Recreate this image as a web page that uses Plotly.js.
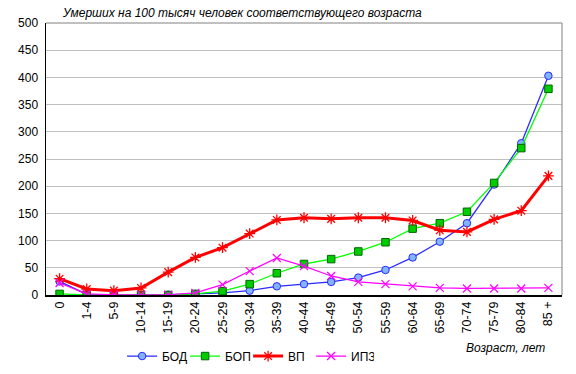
<!DOCTYPE html>
<html><head><meta charset="utf-8">
<script src="https://cdn.plot.ly/plotly-3.0.1.min.js"></script>
<style>html,body{margin:0;padding:0;background:#fff}#c{width:576px;height:374px}</style>
</head><body><div id="c"></div>
<script>
const categories = ["0","1-4","5-9","10-14","15-19","20-24","25-29","30-34","35-39","40-44","45-49","50-54","55-59","60-64","65-69","70-74","75-79","80-84","85 +"];
const bod = [25, 1, 0, 0, 0.5, 2, 4, 8, 16, 20, 24, 32, 46, 69, 98, 132, 203, 279, 403];
const bop = [2, 0, 0, 0, 0, 2, 7, 20, 40, 57, 66, 80, 97, 122, 132, 153, 206, 270, 379];
const vp = [30, 11, 8, 13, 42, 69, 87, 113, 138, 142, 140, 142, 142, 137, 119, 116, 139, 155, 219];
const ipz = [22, 2, 0.5, 0.5, 0.5, 4, 19, 44, 68, 53, 35, 24, 20, 16, 13, 12, 12, 12, 13];
const yTicks = [0,50,100,150,200,250,300,350,400,450,500];

const traces = [
  {name:"БОД", x:categories, y:bod, type:"scatter", mode:"lines+markers",
   line:{color:"#2a2aff", width:1.3},
   marker:{symbol:"circle", size:7.5, color:"#80b4ff", line:{color:"#2a2aff", width:1}}},
  {name:"БОП", x:categories, y:bop, type:"scatter", mode:"lines+markers",
   line:{color:"#00ff00", width:1.3},
   marker:{symbol:"square", size:7.5, color:"#00cc00", line:{color:"#006600", width:1}}},
  {name:"ВП", x:categories, y:vp, type:"scatter", mode:"lines+markers",
   line:{color:"#ff0000", width:3},
   marker:{symbol:"asterisk", size:9, color:"#ff0000", line:{color:"#ff0000", width:1.3}}},
  {name:"ИПЗ", x:categories, y:ipz, type:"scatter", mode:"lines+markers",
   line:{color:"#ff00ff", width:1.2},
   marker:{symbol:"x-thin", size:8, color:"#ff00ff", line:{color:"#ff00ff", width:1.2}}}
];

const layout = {
  width:576, height:374,
  margin:{l:46, r:14, t:23, b:79},
  paper_bgcolor:"#fff", plot_bgcolor:"#fff",
  font:{family:"Liberation Sans, Arial, sans-serif", size:12, color:"#000"},
  showlegend:true,
  legend:{orientation:"h", xref:"container", yref:"container", x:0.212, xanchor:"left",
          y:0.048, yanchor:"middle",
          font:{size:12}, itemwidth:30, entrywidth:18, entrywidthmode:"pixels",
          tracegroupgap:0, bgcolor:"rgba(0,0,0,0)"},
  xaxis:{type:"category", range:[-0.5,18.5], tickangle:-90, tickfont:{size:12.5},
         showgrid:false, showline:true, linecolor:"#000", linewidth:1.5, mirror:false,
         ticks:"", zeroline:false, fixedrange:true, automargin:false},
  yaxis:{range:[0,500], tickvals:yTicks, ticktext:yTicks.map(String), tickfont:{size:12},
         showgrid:true, gridcolor:"#c0c0c0", gridwidth:1,
         showline:true, linecolor:"#000", linewidth:1.5, ticks:"", ticklabelstandoff:4,
         zeroline:false, fixedrange:true, automargin:false},
  shapes:[
    {type:"line", xref:"paper", yref:"paper", x0:0, x1:1, y0:1, y1:1, line:{color:"#808080", width:1}},
    {type:"line", xref:"paper", yref:"paper", x0:1, x1:1, y0:0, y1:1, line:{color:"#808080", width:1}}
  ],
  annotations:[
    {text:"<i>Умерших на 100 тысяч человек соответствующего возраста</i>", xref:"paper", yref:"paper",
     x:0.027, y:1, xanchor:"left", yanchor:"bottom", yshift:1, showarrow:false, font:{size:12}},
    {text:"<i>Возраст, лет</i>", xref:"paper", yref:"paper",
     x:0.97, y:-0.195, xanchor:"right", yanchor:"middle", showarrow:false, font:{size:12}}
  ]
};
Plotly.newPlot("c", traces, layout, {displayModeBar:false, staticPlot:true});
</script></body></html>
